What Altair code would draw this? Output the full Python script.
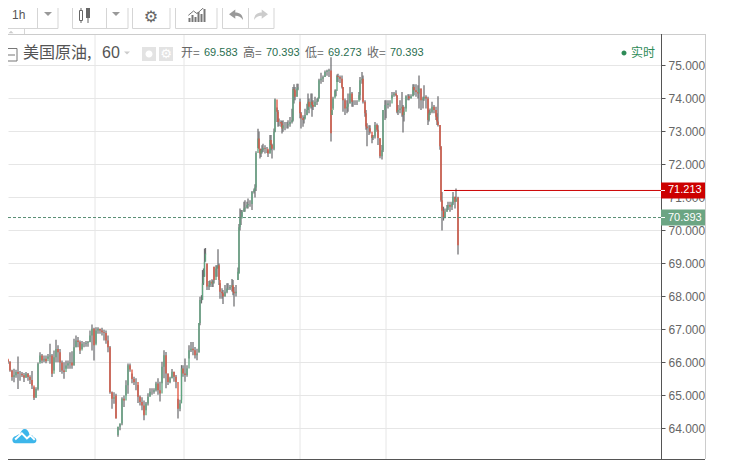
import altair as alt
import pandas as pd

bar_x = [
0,2,4,6,8,10,12,14,16,18,
20,22,24,26,28,30,32,34,36,38,
40,42,44,46,48,50,52,54,56,58,
60,62,64,66,68,70,72,74,76,78,
80,82,84,86,88,90,92,94,96,98,
100,102,104,106,108,110,112,114,116,118,
120,122,124,126,128,130,132,134,136,138,
140,142,144,146,148,150,152,154,156,158,
160,162,164,166,168,170,172,174,176,178,
180,181.5,183,185,187,189,191,193,195,197,
199,200,201.5,202.5,203.5,204.5,205.5,207,209,210,
212,213,214,216,217,218,219,220,222,223,
225,227,228,230,232,233,234,236,238,239,
240,241,242,244,245,247,248,250,252,254,
255,256,258,259,260,261,262,263,265,267,
268,270,271,272,274,275,277,278,279,281,
282,283,285,287,288,290,292,293,294,295,
297,298,300,301,303,304,305,307,308,309,
311,312,313,315,317,318,319,321,323,325,
327,329,331,332,333,335,336,337,338,340,
342,343,345,347,348,350,352,353,355,357,
359,360,362,363,365,366,367,369,370,372,
373,375,377,378,380,382,383,385,386,388,
390,392,394,396,397,398,400,402,403,404,
406,408,409,411,413,414,416,418,419,421,
423,424,426,428,429,430,432,434,436,437,
438,440,441,442,443.5,445,447,448,450,452,
453,455,456,458]

closes = [
65.86,65.68,65.86,66.11,66.02,65.76,65.56,65.61,65.71,65.66,
65.66,65.61,65.54,65.66,65.56,65.47,65.30,64.93,65.20,65.96,
66.21,66.06,66.11,66.04,66.18,66.21,65.66,66.16,66.41,66.31,
66.00,65.76,65.71,65.91,65.98,66.00,65.91,66.46,66.67,66.62,
66.36,66.57,66.57,66.59,66.61,66.82,67.02,66.52,66.97,67.02,
66.97,66.92,66.89,66.67,66.46,65.10,64.90,64.95,64.30,64.05,
64.15,64.90,64.85,65.31,65.92,65.79,65.50,65.40,65.41,64.96,
64.80,64.70,64.40,64.76,64.96,65.11,65.11,65.16,65.36,65.16,
65.06,65.87,66.22,65.67,65.41,65.52,65.72,65.57,65.41,64.60,
64.76,65.82,65.67,65.62,65.82,66.37,66.42,66.37,66.22,66.27,
67.20,67.89,67.89,68.40,68.60,69.05,69.30,68.30,68.34,68.45,
68.39,68.45,68.50,68.85,68.90,68.95,68.50,68.14,68.10,68.00,
68.14,68.24,68.24,68.29,68.34,68.14,68.10,68.14,68.75,70.10,
70.36,70.36,70.57,70.67,70.70,70.77,70.80,70.80,71.17,71.22,
71.30,72.35,72.79,72.48,72.33,72.43,72.43,72.50,72.48,72.48,
72.33,72.74,72.59,72.48,72.99,73.97,73.60,73.29,73.29,73.24,
73.09,73.19,73.19,73.19,73.22,73.29,73.34,74.28,74.25,74.05,
74.30,74.33,73.55,73.40,73.35,73.36,73.50,73.65,73.90,73.75,
73.90,73.80,73.75,73.90,73.92,74.00,74.55,74.60,74.65,74.80,
74.84,74.86,72.95,73.65,74.00,74.23,74.23,74.68,74.65,74.60,
74.35,73.95,73.70,73.75,73.85,74.15,73.90,73.90,73.90,73.90,
74.10,74.55,74.60,73.90,73.55,73.15,73.10,73.10,72.99,72.80,
72.85,73.20,73.05,72.80,72.25,72.43,73.65,73.80,73.80,73.85,
73.85,74.10,74.15,74.10,73.60,73.65,73.70,73.75,73.50,73.60,
74.07,74.07,74.00,74.07,74.35,74.25,74.20,74.15,74.30,73.95,
74.00,74.05,74.00,73.35,73.55,73.60,73.75,73.65,73.45,73.30,
73.20,72.55,70.92,70.60,70.40,70.57,70.67,70.77,70.72,70.82,
71.02,70.87,70.97,69.55]

opens = [
65.90,65.86,65.68,65.86,66.11,66.02,65.76,65.56,65.61,65.71,
65.66,65.66,65.61,65.54,65.66,65.56,65.47,65.30,64.93,65.20,
65.96,66.21,66.06,66.11,66.04,66.18,66.21,65.66,66.16,66.41,
66.31,66.00,65.76,65.71,65.91,65.98,66.00,65.91,66.46,66.67,
66.62,66.36,66.57,66.57,66.59,66.61,66.82,67.02,66.52,66.97,
67.02,66.97,66.92,66.89,66.67,66.46,65.10,64.90,65.00,63.80,
64.05,64.15,64.90,64.85,65.31,65.92,65.79,65.50,65.40,65.41,
64.96,64.80,64.70,64.40,64.76,64.96,65.11,65.11,65.16,65.36,
65.16,65.06,65.87,66.22,65.67,65.41,65.52,65.72,65.57,65.41,
64.60,64.76,65.82,65.67,65.62,65.82,66.37,66.42,66.37,66.22,
66.30,67.20,67.89,67.89,68.40,68.60,69.05,69.00,68.30,68.34,
68.45,68.39,68.90,68.50,68.85,68.90,68.95,68.50,68.14,68.10,
68.00,68.14,68.24,68.24,68.29,68.34,68.14,68.10,68.50,68.70,
70.10,70.36,70.36,70.57,70.67,70.70,70.77,70.80,70.80,71.17,
71.22,71.30,72.35,72.79,72.48,72.33,72.43,72.43,72.50,72.48,
72.48,72.33,72.74,72.59,72.48,72.99,73.97,73.60,73.29,73.29,
73.24,73.09,73.19,73.19,73.19,73.22,73.29,73.34,74.28,74.25,
74.05,74.30,73.90,73.55,73.40,73.35,73.36,73.50,73.65,73.90,
73.75,73.90,73.80,73.75,73.90,73.92,74.00,74.55,74.60,74.65,
74.80,74.84,74.85,73.50,73.65,74.00,74.23,74.23,74.68,74.65,
74.60,74.35,73.95,73.70,73.75,73.85,74.15,73.90,73.90,73.90,
73.90,74.10,74.55,74.60,73.90,73.55,73.15,73.10,73.10,72.99,
72.80,72.85,73.20,73.05,72.80,72.25,72.43,73.65,73.80,73.80,
73.85,73.85,74.10,74.15,74.10,73.60,73.65,73.70,73.75,73.50,
73.60,74.07,74.07,74.00,74.07,74.35,74.25,74.20,74.15,74.30,
73.95,74.00,74.05,74.00,73.35,73.55,73.60,73.75,73.65,73.45,
73.30,73.20,72.55,70.92,70.60,70.40,70.57,70.67,70.77,70.72,
70.82,71.02,70.87,71.00]

highs = [
66.06,66.04,65.98,66.18,66.08,66.04,65.78,65.81,65.78,66.18,
65.74,65.71,65.68,65.71,65.68,65.61,65.74,65.25,65.25,66.00,
66.31,66.26,66.21,66.21,66.26,66.57,66.26,66.36,66.69,66.52,
66.41,66.06,66.01,66.06,66.06,66.31,66.34,66.72,66.82,66.77,
66.67,66.65,66.62,66.65,66.65,66.97,67.15,67.05,67.07,67.07,
67.02,67.05,66.99,66.97,66.82,66.50,65.12,65.10,65.05,64.05,
64.15,64.95,65.00,65.46,65.97,65.97,65.67,65.57,65.52,65.32,
65.00,64.95,64.85,64.80,65.07,65.22,65.22,65.22,65.42,65.52,
65.42,66.02,66.37,66.32,65.67,65.57,65.80,65.72,65.62,64.90,
64.87,65.92,65.92,66.12,65.92,66.52,66.62,66.62,66.47,66.42,
67.20,67.99,68.04,68.80,68.85,69.45,69.47,69.00,68.47,68.49,
68.52,68.49,68.90,68.95,68.95,69.43,69.00,68.40,68.25,68.20,
68.35,68.40,68.40,68.35,68.53,68.50,68.29,68.35,68.88,70.20,
70.67,70.62,70.62,70.87,70.92,70.87,70.97,70.92,71.20,71.27,
71.40,72.40,73.08,73.00,72.48,72.48,72.58,72.63,72.58,72.53,
72.43,72.89,72.89,72.63,73.09,74.00,73.73,73.65,73.39,73.34,
73.32,73.34,73.29,73.29,73.34,73.44,73.69,74.35,74.43,74.35,
74.45,74.45,74.00,73.59,73.49,73.44,73.69,73.84,74.15,74.00,
74.15,74.15,73.95,74.05,74.00,74.03,74.60,74.78,74.70,74.85,
74.87,74.90,75.25,73.65,74.05,74.27,74.27,74.73,74.75,74.70,
74.70,74.35,74.00,73.95,74.15,74.35,74.20,73.95,73.95,73.95,
74.20,74.65,74.80,74.70,73.95,73.65,73.25,73.19,73.19,72.89,
72.89,73.29,73.24,73.19,72.79,72.59,73.65,73.95,73.95,73.95,
73.95,74.20,74.20,74.25,74.10,73.80,73.95,74.20,73.80,73.75,
74.10,74.13,74.13,74.13,74.43,74.43,74.43,74.40,74.70,74.30,
74.05,74.40,74.10,74.05,73.65,73.70,73.90,73.80,73.75,73.55,
74.07,73.20,72.55,71.17,70.72,70.67,70.77,70.87,70.87,70.87,
71.17,71.02,71.27,71.02]

lows = [
65.76,65.60,65.66,65.91,65.96,65.72,65.45,65.40,65.54,65.20,
65.45,65.56,65.41,65.54,65.45,65.35,65.20,64.86,64.93,65.15,
66.01,65.98,66.01,65.98,66.11,65.96,65.56,65.76,66.01,66.01,
65.71,65.66,65.51,65.81,65.81,65.81,65.81,65.91,66.46,66.46,
66.26,66.41,66.46,66.48,66.48,66.62,66.36,66.06,66.57,66.87,
66.87,66.82,66.67,66.57,66.31,65.05,64.60,64.75,64.30,63.75,
63.95,64.10,64.65,65.00,65.05,65.72,65.37,65.32,65.16,64.77,
64.70,64.55,64.25,64.55,64.70,64.97,65.02,65.05,65.12,65.02,
64.82,65.37,65.52,65.22,65.32,65.37,65.52,65.42,65.22,64.30,
64.52,64.87,65.57,65.42,65.57,66.12,66.32,66.22,66.12,66.07,
66.30,67.13,67.79,67.90,68.35,68.60,69.27,68.20,68.20,68.29,
68.29,68.29,68.39,68.60,68.60,68.85,68.35,67.93,67.93,67.77,
68.00,68.10,68.20,68.20,68.15,68.04,67.70,68.00,68.50,68.70,
70.00,70.17,70.42,70.57,70.57,70.67,70.67,70.72,70.62,71.12,
71.00,71.20,72.50,72.48,72.18,72.23,72.33,72.38,72.33,72.35,
72.23,72.33,72.43,72.18,72.43,72.98,73.29,73.14,73.16,73.14,
72.94,72.99,73.04,73.09,73.09,73.14,73.24,73.30,73.85,73.95,
74.05,74.25,73.40,73.09,73.14,73.24,73.39,73.49,73.65,73.55,
73.70,73.45,73.65,73.75,73.80,73.90,74.00,74.45,74.50,74.65,
74.69,74.65,72.70,73.50,73.70,74.05,74.07,74.50,74.50,74.47,
74.30,73.60,73.50,73.55,73.60,73.85,73.75,73.75,73.80,73.80,
73.97,73.95,74.45,73.85,73.45,73.05,72.55,72.89,72.94,72.64,
72.74,72.79,72.99,72.59,72.19,72.15,72.38,73.35,73.40,73.70,
73.75,74.00,74.05,74.07,73.55,73.50,73.55,73.45,72.97,73.30,
73.70,73.95,73.95,74.00,74.07,74.10,74.05,74.00,73.70,73.65,
73.70,73.93,73.70,73.20,73.30,73.50,73.55,73.55,73.35,73.20,
73.15,72.45,70.87,70.00,70.30,70.37,70.57,70.62,70.57,70.62,
70.77,70.67,70.87,69.27]

grid_x = [95, 184, 300, 386]
price_ticks = [64, 65, 66, 67, 68, 69, 70, 71, 72, 73, 74, 75]
last_price = 70.393
line_price = 71.213
line_start = 444
legend_labels = ["开=", "高=", "低=", "收="]
legend_values = ["69.583", "70.393", "69.273", "70.393"]

UP, DOWN, WICK = "#5FA57F", "#E0503A", "#6E6E70"
TAG_GREEN = "#6BA583"
FONT = "Liberation Sans"
CJK = "Noto Sans CJK SC"

df = pd.DataFrame({"x": bar_x, "o": opens, "h": highs, "l": lows, "c": closes})
df["dir"] = ["up" if c >= o else "down" for o, c in zip(opens, closes)]

xs = alt.Scale(domain=[8, 661], nice=False, zero=False)
ys = alt.Scale(domain=[63.045, 76.742], nice=False, zero=False)
one = pd.DataFrame({"a": [0]})


def box(l, r, t, b, fill=None, stroke=None):
    kw = {"fill": fill if fill else "transparent"}
    if stroke:
        kw.update(stroke=stroke, strokeWidth=1)
    return alt.Chart(one).mark_rect(**kw).encode(
        x=alt.value(l - 8), x2=alt.value(r - 8), y=alt.value(t - 8), y2=alt.value(b - 8))


def hline(l, r, y, color, w=1):
    return alt.Chart(one).mark_rule(color=color, strokeWidth=w).encode(
        x=alt.value(l - 8), x2=alt.value(r - 8), y=alt.value(y - 8))


def vline(x, t, b, color, w=1):
    return alt.Chart(one).mark_rule(color=color, strokeWidth=w).encode(
        x=alt.value(x - 8), y=alt.value(t - 8), y2=alt.value(b - 8))


def txt(x, y, s, size=12, color="#555555", align="left", font=FONT, weight="normal"):
    return alt.Chart(one).mark_text(text=s, fontSize=size, color=color, align=align,
                                    baseline="middle", font=font, fontWeight=weight).encode(
        x=alt.value(x - 8), y=alt.value(y - 8))


def shape(x, y, path, size, color, filled=True, w=1):
    kw = dict(shape=path, size=size, filled=filled, opacity=1)
    if filled:
        kw.update(fill=color, strokeWidth=0)
    else:
        kw.update(stroke=color, strokeWidth=w)
    return alt.Chart(one).mark_point(**kw).encode(x=alt.value(x - 8), y=alt.value(y - 8))


layers = []

# price axis and horizontal grid
layers.append(alt.Chart(pd.DataFrame({"p": price_ticks})).mark_point(opacity=0).encode(
    y=alt.Y("p:Q", scale=ys, title=None, axis=alt.Axis(
        orient="right", values=price_ticks, format=".3f", domain=False,
        tickColor="#555555", tickSize=4, tickWidth=1, labelPadding=3,
        labelColor="#666666", labelFont=FONT, labelFontSize=12,
        grid=True, gridColor="#e6e6e6", gridWidth=1)),
    x=alt.value(0)))

# vertical grid
layers.append(alt.Chart(pd.DataFrame({"g": grid_x})).mark_rule(color="#e6e6e6", strokeWidth=1).encode(
    x=alt.X("g:Q", scale=xs, axis=None), y=alt.value(26), y2=alt.value(451)))

# candles
layers.append(alt.Chart(df).mark_rule(color=WICK, strokeWidth=1.25, clip=True).encode(
    x=alt.X("x:Q", scale=xs, axis=None), y=alt.Y("h:Q", scale=ys), y2="l:Q"))
layers.append(alt.Chart(df).mark_rule(strokeWidth=1.3, clip=True).encode(
    x=alt.X("x:Q", scale=xs, axis=None), y=alt.Y("o:Q", scale=ys), y2="c:Q",
    color=alt.Color("dir:N", scale=alt.Scale(domain=["up", "down"], range=[UP, DOWN]), legend=None)))

# last price and position lines
layers.append(alt.Chart(pd.DataFrame({"p": [last_price]})).mark_rule(
    color="#5a8f75", strokeWidth=1, strokeDash=[3, 2]).encode(
    y=alt.Y("p:Q", scale=ys), x=alt.value(0), x2=alt.value(653)))
layers.append(alt.Chart(pd.DataFrame({"p": [line_price], "s": [line_start]})).mark_rule(
    color="#cc0000", strokeWidth=1).encode(
    y=alt.Y("p:Q", scale=ys), x=alt.X("s:Q", scale=xs, axis=None), x2=alt.value(653)))

# frame
layers += [hline(0, 705, 34.5, "#cccccc"), vline(705.5, 34, 459, "#cccccc"),
           vline(661.5, 34, 459, "#555555"), hline(0, 705, 459.5, "#555555")]

# price tags
tags = pd.DataFrame({"p": [line_price, last_price],
                     "lo": [line_price - 0.24, last_price - 0.24],
                     "hi": [line_price + 0.24, last_price + 0.24],
                     "t": [f"{line_price:.3f}", f"{last_price:.3f}"],
                     "col": ["#cc0000", TAG_GREEN]})
layers.append(alt.Chart(tags).mark_rect().encode(
    y=alt.Y("lo:Q", scale=ys), y2="hi:Q", x=alt.value(653), x2=alt.value(697),
    color=alt.Color("col:N", scale=None, legend=None)))
layers.append(alt.Chart(tags).mark_rule(color="white", strokeWidth=1).encode(
    y=alt.Y("p:Q", scale=ys), x=alt.value(653), x2=alt.value(657)))
layers.append(alt.Chart(tags).mark_text(color="white", fontSize=11, font=FONT, align="left", baseline="middle", dx=7).encode(
    y=alt.Y("p:Q", scale=ys), x=alt.value(653), text="t:N"))

# toolbar
for l, r in [(0, 58), (72.5, 128), (132.5, 170), (175.5, 217), (222.5, 274)]:
    layers.append(box(l, r, -4, 28.5, stroke="#d5d5d5"))
for x in [37.5, 106.5, 248.5]:
    layers.append(vline(x, 0, 28, "#d5d5d5"))
layers.append(txt(12, 15, "1h", 12, "#555555"))
TRI = "M-1,-0.5 L1,-0.5 L0,0.5 Z"
layers += [shape(48, 14, TRI, 64, "#999999"), shape(116, 14, TRI, 64, "#999999")]
# candle icon
layers += [vline(81, 8, 23, "#666666"), box(79.5, 82.5, 10.5, 20.5, fill="white", stroke="#666666"),
           vline(88, 4, 23, "#666666", 1), box(86, 90, 8, 18, fill="#666666")]
layers.append(txt(151, 17, "\u2699", 16, "#666666", "center", "DejaVu Sans"))
# indicator icon
for bx, bt in [(189, 18), (192, 15), (195, 17), (198, 12), (201, 14), (204, 9)]:
    layers.append(vline(bx + 0.5, bt, 22, "#777777", 2))
layers.append(shape(197, 11, "M-1,0.5 L-0.4,0 L0,0.3 L1,-0.6", 300, "#777777", filled=False, w=1))
UNDO = "M-1,-0.1 L-0.1,-0.8 L-0.1,-0.35 C0.5,-0.35 1,0 1,0.7 C0.7,0.25 0.4,0.1 -0.1,0.1 L-0.1,0.55 Z"
REDO = "M1,-0.1 L0.1,-0.8 L0.1,-0.35 C-0.5,-0.35 -1,0 -1,0.7 C-0.7,0.25 -0.4,0.1 0.1,0.1 L0.1,0.55 Z"
layers += [shape(236, 15, UNDO, 196, "#999999"), shape(261, 15, REDO, 196, "#cccccc")]
layers += [vline(24.5, 28, 34, "#d5d5d5"), shape(11, 32, "M-1,0.5 L1,0.5 L0,-0.5 Z", 25, "#cccccc")]

# symbol header
layers += [box(4.5, 17, 48.5, 61, stroke="#777777"), hline(7, 15, 55, "#777777")]
layers.append(txt(23, 53, "美国原油,", 16, "#555555", "left", CJK))
layers.append(txt(102, 53, "60", 16, "#555555", "left", FONT))
layers.append(shape(127, 53, TRI, 36, "#cccccc"))
layers += [box(142, 156, 47, 61, fill="#e3e3e3"), box(159, 173, 47, 61, fill="#e3e3e3")]
layers.append(shape(149, 54, "M-1,0 A1,1 0 1,0 1,0 A1,1 0 1,0 -1,0 Z", 50, "white"))
layers.append(txt(166, 54, "\u2699", 13, "white", "center", "DejaVu Sans"))
for lx, vx, lab, val in zip([181, 243, 305, 367], [204, 266, 328, 390], legend_labels, legend_values):
    layers.append(txt(lx, 53, lab, 12, "#666666", "left", CJK))
    layers.append(txt(vx, 53, val, 11, "#2a6e50", "left", FONT))

# realtime marker
layers.append(shape(624, 53, "M-1,0 A1,1 0 1,0 1,0 A1,1 0 1,0 -1,0 Z", 25, "#2e8b57"))
layers.append(txt(631, 53, "实时", 12, "#2e8b57", "left", CJK))

# logo
CLOUD = ("M-0.75,0.6 C-1.1,0.6 -1.1,0.05 -0.72,0 C-0.6,-0.1 -0.5,-0.15 -0.38,-0.12 "
         "C-0.25,-0.75 0.3,-0.75 0.42,-0.1 C0.6,-0.12 0.72,0 0.75,0.1 C1.1,0.15 1.05,0.6 0.75,0.6 Z")
layers.append(shape(24.5, 436, CLOUD, 576, "#3db6ea"))
layers.append(shape(24.5, 436, "M-0.78,0.3 L-0.22,-0.22 L0.2,0.2 L0.48,-0.05 L0.85,0.32", 576, "white", filled=False, w=2))

chart = alt.layer(*layers).properties(
    width=653, height=452,
    padding={"left": 0, "top": 0, "right": 60, "bottom": 0},
    autosize=alt.AutoSizeParams(type="none"),
).configure_view(stroke=None)

chart.save("out.html", embed_options={"renderer": "svg", "actions": False})
